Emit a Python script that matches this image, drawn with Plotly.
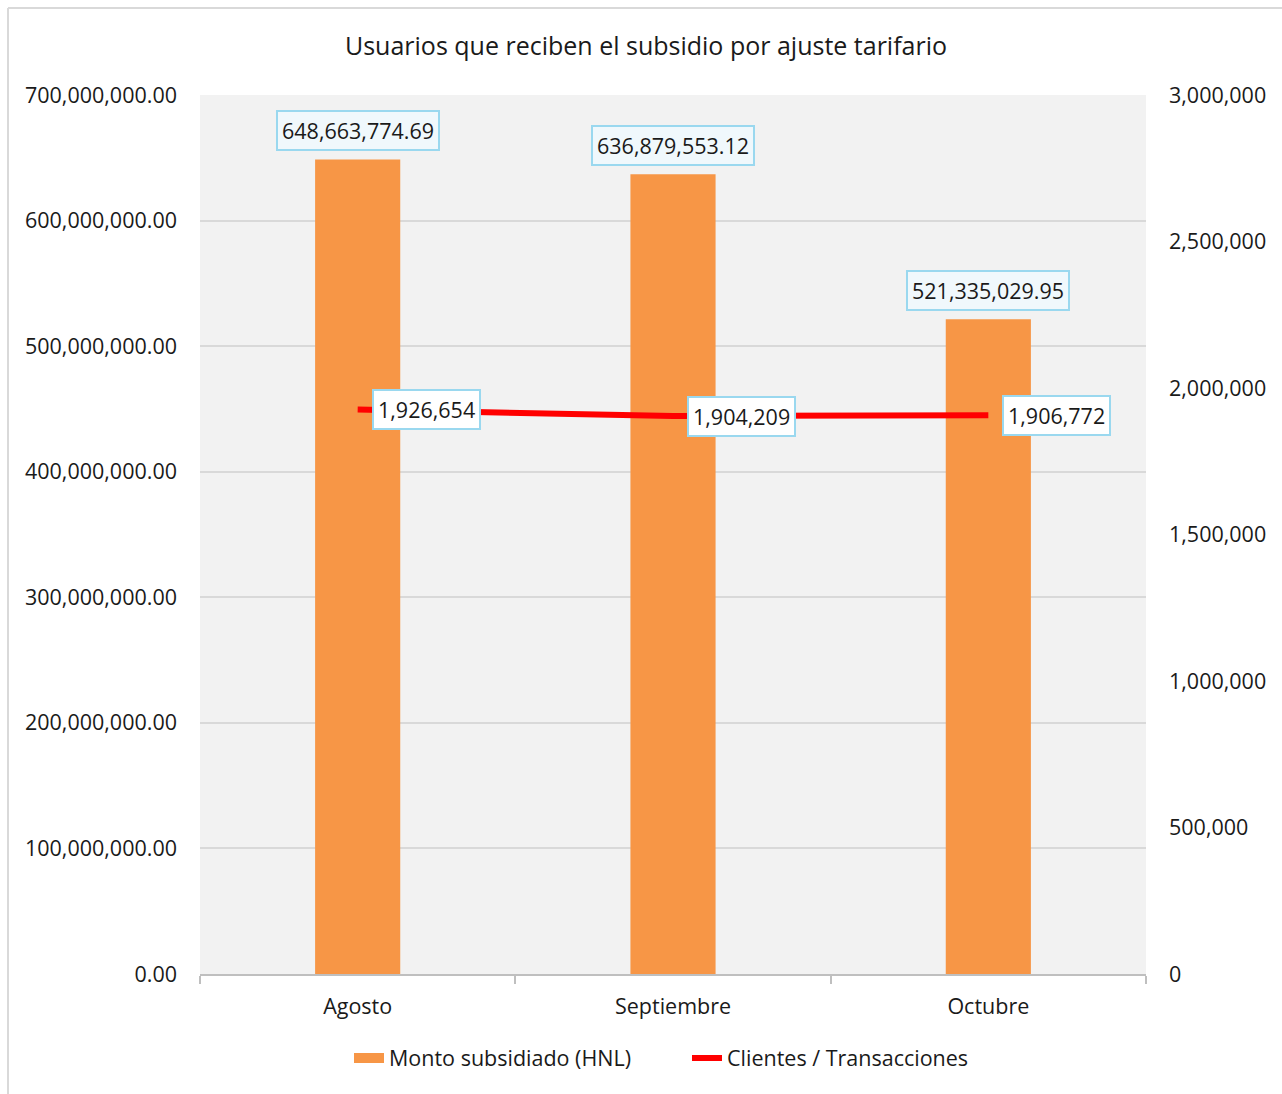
import plotly.graph_objects as go

categories = ["Agosto", "Septiembre", "Octubre"]
monto = [648663774.69, 636879553.12, 521335029.95]
clientes = [1926654, 1904209, 1906772]
left_ticks = [0, 100000000, 200000000, 300000000, 400000000, 500000000, 600000000, 700000000]
right_ticks = [0, 500000, 1000000, 1500000, 2000000, 2500000, 3000000]

FONT = "Open Sans"
TXT = "#1a1a1a"
FS = 21.5
W, H = 1282, 1094
L, R, T, B = 200, 1282 - 1146, 95, 1094 - 974
pw, ph = W - L - R, H - T - B
ORANGE = "#f79646"

fig = go.Figure()
fig.add_trace(go.Bar(
    x=categories, y=monto, name="Monto subsidiado (HNL)", showlegend=False,
    marker=dict(color=ORANGE, line=dict(width=0)), width=0.27,
))
# legend-only entry drawn as a wide orange block like the reference
fig.add_trace(go.Scatter(
    x=[None], y=[None], name="Monto subsidiado (HNL)", mode="lines",
    line=dict(color=ORANGE, width=14),
))
fig.add_trace(go.Scatter(
    x=categories, y=clientes, name="Clientes / Transacciones", yaxis="y2",
    mode="lines", line=dict(color="#ff0000", width=6),
))

annotations = []
for c, v in zip(categories, monto):
    annotations.append(dict(
        x=c, y=v, xref="x", yref="y", text=f"{v:,.2f}", showarrow=False,
        yanchor="bottom", yshift=8, font=dict(family=FONT, size=FS, color=TXT),
        bgcolor="#f0f8fc", bordercolor="#9ad8ef", borderwidth=2, borderpad=4,
    ))
for c, v in zip(categories, clientes):
    annotations.append(dict(
        x=c, y=v, xref="x", yref="y2", text=f"{v:,d}", showarrow=False,
        xanchor="left", xshift=14, yanchor="middle",
        font=dict(family=FONT, size=FS, color=TXT),
        bgcolor="#ffffff", bordercolor="#9ad8ef", borderwidth=2, borderpad=4,
    ))

x_left = (8 - L) / pw
y_top = 1 + (T - 8) / ph
y_bot = -(H - (T + ph) + 5) / ph
x_right = (W + 5 - L) / pw
shapes = [
    dict(type="line", xref="paper", yref="paper", x0=x_left, x1=x_left, y0=y_bot, y1=y_top,
         line=dict(color="#d9d9d9", width=2), layer="below"),
    dict(type="line", xref="paper", yref="paper", x0=x_left, x1=x_right, y0=y_top, y1=y_top,
         line=dict(color="#d9d9d9", width=2), layer="below"),
]

fig.update_layout(
    width=W, height=H,
    margin=dict(l=L, r=R, t=T, b=B, autoexpand=False),
    paper_bgcolor="white", plot_bgcolor="#f2f2f2",
    font=dict(family=FONT, size=FS, color=TXT),
    title=dict(text="Usuarios que reciben el subsidio por ajuste tarifario",
               x=646 / W, xanchor="center", y=1 - 46 / H, yanchor="middle",
               font=dict(family=FONT, size=25, color=TXT)),
    xaxis=dict(showgrid=False, showline=True, linecolor="#bfbfbf", linewidth=2,
               ticks="outside", tickson="boundaries", ticklen=8, tickcolor="#bfbfbf",
               tickwidth=2, ticklabelstandoff=12, tickfont=dict(size=FS)),
    yaxis=dict(range=[0, 700000000], tickvals=left_ticks, tickformat=",.2f",
               showgrid=True, gridcolor="#d9d9d9", gridwidth=2, zeroline=False,
               showline=False, ticks="", ticklabelstandoff=22, tickfont=dict(size=FS)),
    yaxis2=dict(range=[0, 3000000], tickvals=right_ticks, tickformat=",d",
                overlaying="y", side="right", showgrid=False, zeroline=False,
                showline=False, ticks="", ticklabelstandoff=22, tickfont=dict(size=FS)),
    legend=dict(orientation="h", x=(687 - L) / pw, xanchor="center",
                y=-(1058 - 974) / ph, yanchor="middle",
                font=dict(family=FONT, size=FS, color=TXT), bgcolor="rgba(0,0,0,0)",
                traceorder="normal", entrywidth=293, entrywidthmode="pixels"),
    annotations=annotations,
    shapes=shapes,
    showlegend=True,
)

fig.write_html("out.html")
